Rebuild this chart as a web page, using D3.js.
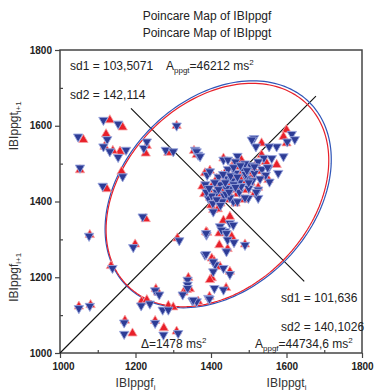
<!DOCTYPE html>
<html>
<head>
<meta charset="utf-8">
<script src="https://cdn.jsdelivr.net/npm/d3@7"></script>
<style>
  body { margin: 0; background: #fff; }
  svg { display: block; font-family: "Liberation Sans", Arial, sans-serif; }
</style>
</head>
<body>
<div id="chart"></div>
<script>
// IBI(i), IBI(i+1) pairs
var ppgfPoints = [
  [1062,1563],[1053,1483],[1132,1615],[1166,1596],[1122,1578],[1118,1545],[1159,1532],[1140,1534],
  [1163,1479],[1124,1433],[1227,1527],[1230,1547],[1309,1600],[1287,1529],[1355,1534],[1362,1523],
  [1227,1354],[1079,1312],[1199,1287],[1311,1303],[1135,1230],[1050,1123],[1081,1127],[1172,1086],
  [1192,1052],[1216,1136],[1230,1140],[1254,1169],[1260,1160],[1252,1085],[1275,1066],[1309,1057],
  [1287,1125],[1300,1121],[1340,1199],[1344,1169],[1327,1160],[1366,1136],[1336,1167],
  [1390,1318],[1402,1250],[1402,1198],[1396,1149],[1440,1172],[1424,1228],[1406,1378],[1387,1320],
  [1422,1316],[1455,1307],[1490,1287],[1444,1275],[1422,1285],[1408,1243],[1450,1215],[1397,1193],
  [1450,1360],[1433,1350],
  [1600,1589],[1592,1571],[1600,1554],[1534,1554],[1574,1497],[1552,1457],[1525,1437],[1534,1523],
  [1384,1475],[1393,1431],[1397,1482],[1433,1514],
  [1410,1420],[1420,1440],[1430,1410],[1440,1455],[1450,1430],[1460,1470],[1470,1445],[1480,1480],
  [1490,1455],[1500,1490],[1510,1470],[1520,1500],[1440,1480],[1460,1500],[1415,1460],[1425,1395],
  [1445,1405],[1470,1420],[1495,1430],[1505,1450],[1530,1480],[1545,1505],[1480,1510],[1455,1488],
  [1435,1430],[1405,1445],[1398,1410],[1418,1380],[1465,1395],[1485,1405],[1515,1420],[1540,1465],
  [1472,1492],[1428,1468],[1450,1450],[1488,1468],[1400,1390],[1412,1402],[1377,1440],[1382,1420],
  [1436,1444],[1458,1462],[1476,1462],[1498,1478],[1422,1420],[1446,1422],[1468,1432],[1512,1488]
];
var ppgtPoints = [
  [1048,1571],[1053,1489],[1115,1615],[1154,1605],[1125,1564],[1115,1545],[1132,1532],[1154,1517],
  [1175,1536],[1166,1466],[1113,1441],[1222,1541],[1230,1558],[1309,1600],[1280,1536],[1300,1532],
  [1366,1523],[1358,1536],[1219,1360],[1077,1309],[1194,1279],[1316,1297],[1139,1224],[1050,1118],
  [1079,1124],[1170,1080],[1170,1050],[1215,1125],[1238,1130],[1252,1165],[1263,1154],[1252,1079],
  [1274,1048],[1313,1052],[1272,1114],[1287,1114],[1338,1193],[1338,1180],[1338,1171],[1325,1154],
  [1351,1138],[1362,1136],
  [1388,1312],[1437,1321],[1411,1233],[1384,1259],[1409,1171],[1393,1145],[1433,1167],[1406,1373],
  [1428,1396],[1459,1400],[1387,1316],[1424,1334],[1428,1325],[1450,1343],[1441,1316],[1444,1299],
  [1490,1285],[1461,1292],[1441,1268],[1387,1261],[1406,1241],[1433,1224],[1450,1208],[1406,1215],
  [1353,1140],[1396,1143],[1459,1338],
  [1614,1578],[1622,1564],[1602,1558],[1514,1567],[1519,1545],[1574,1545],[1554,1545],[1540,1515],
  [1592,1519],[1578,1475],[1552,1488],[1561,1514],[1555,1452],[1525,1431],[1525,1409],[1499,1409],
  [1390,1470],[1393,1409],[1362,1532],[1371,1519],[1397,1479],[1433,1510],[1445,1510],[1470,1520],
  [1508,1563],
  [1415,1425],[1425,1445],[1435,1415],[1445,1460],[1455,1435],[1465,1475],[1475,1450],[1485,1485],
  [1495,1460],[1505,1495],[1515,1475],[1525,1505],[1445,1485],[1465,1505],[1420,1465],[1430,1400],
  [1450,1410],[1475,1425],[1500,1435],[1510,1455],[1535,1485],[1490,1500],[1460,1490],[1440,1435],
  [1410,1450],[1402,1415],[1470,1400],[1490,1410],[1520,1425],[1545,1470],[1478,1495],[1432,1472],
  [1455,1455],[1492,1472],[1405,1395],[1415,1405],[1385,1445],[1388,1425],[1480,1440],[1500,1450],
  [1460,1445],[1440,1420],[1425,1390],[1395,1435],[1530,1460],[1550,1490],
  [1438,1450],[1452,1468],[1470,1465],[1495,1482],[1420,1432],[1448,1425],[1465,1438],[1515,1492]
];

// ellipse parameters (ppgf, ppgt)
var seriesNames = ['ppgf', 'ppgt'];
var sd1Values = [101.636, 103.5071];
var sd2Values = [140.1026, 142.114];
var centerValues = [1417, 1419];
var majorTicks = [1000, 1200, 1400, 1600, 1800];
var minorTicks = [1100, 1300, 1500, 1700];

var width = 374, height = 391;
var colors = { ppgf: '#e8202a', ppgt: '#2d3c96' };

var svg = d3.select('#chart').append('svg')
    .attr('width', width)
    .attr('height', height);

var x = d3.scaleLinear().domain([1000, 1800]).range([60, 362]);
var y = d3.scaleLinear().domain([1000, 1800]).range([353, 50]);

// titre
svg.append('text').attr('x', 207).attr('y', 20).attr('text-anchor', 'middle')
    .attr('font-size', 12).attr('fill', '#222').text('Poincare Map of IBIppgf');
svg.append('text').attr('x', 207).attr('y', 37).attr('text-anchor', 'middle')
    .attr('font-size', 12).attr('fill', '#222').text('Poincare Map of IBIppgt');

// cadre
svg.append('rect')
    .attr('x', x(1000)).attr('y', y(1800))
    .attr('width', x(1800) - x(1000)).attr('height', y(1000) - y(1800))
    .attr('fill', 'none').attr('stroke', '#444').attr('stroke-width', 1.5);

// axes
var xAxis = svg.append('g')
    .attr('transform', 'translate(0,' + y(1000) + ')')
    .call(d3.axisBottom(x).tickValues(majorTicks).tickSize(5).tickFormat(d3.format('d')));
var xMinor = svg.append('g')
    .attr('transform', 'translate(0,' + y(1000) + ')')
    .call(d3.axisTop(x).tickValues(minorTicks).tickSize(3).tickFormat(''));
var yAxis = svg.append('g')
    .attr('transform', 'translate(' + x(1000) + ',0)')
    .call(d3.axisLeft(y).tickValues(majorTicks).tickSize(5).tickFormat(d3.format('d')));
var yMinor = svg.append('g')
    .attr('transform', 'translate(' + x(1000) + ',0)')
    .call(d3.axisRight(y).tickValues(minorTicks).tickSize(3).tickFormat(''));

[xAxis, xMinor, yAxis, yMinor].forEach(function(g) {
    g.select('.domain').remove();
    g.selectAll('line').attr('stroke', '#444').attr('stroke-width', 1.2);
    g.selectAll('text').attr('font-size', 10).attr('font-weight', 'bold')
        .attr('fill', '#222').attr('font-family', '"Liberation Sans", Arial, sans-serif');
});
xAxis.selectAll('text').attr('dy', '0.85em');
xAxis.selectAll('.tick').filter(function(d) { return d === 1000; })
    .select('text').attr('dx', 3);
yAxis.selectAll('text').attr('x', -8);

// axis titles
function subLabel(g, main, sub) {
    g.append('tspan').text(main);
    g.append('tspan').attr('font-size', 8).attr('dy', 3).text(sub);
}
var t1 = svg.append('text').attr('x', x(1200)).attr('y', 387).attr('text-anchor', 'middle')
    .attr('font-size', 12).attr('fill', '#333');
subLabel(t1, 'IBIppgf', 'i');
var t2 = svg.append('text').attr('x', x(1600)).attr('y', 387).attr('text-anchor', 'middle')
    .attr('font-size', 12).attr('fill', '#333');
subLabel(t2, 'IBIppgt', 'i');
var t3 = svg.append('text').attr('transform', 'translate(18,' + y(1600) + ') rotate(-90)')
    .attr('text-anchor', 'middle').attr('font-size', 12).attr('fill', '#333');
subLabel(t3, 'IBIppgt', 'i+1');
var t4 = svg.append('text').attr('transform', 'translate(18,' + y(1200) + ') rotate(-90)')
    .attr('text-anchor', 'middle').attr('font-size', 12).attr('fill', '#333');
subLabel(t4, 'IBIppgf', 'i+1');

var plot = svg.append('g');

// identity line and perpendicular
plot.append('line')
    .attr('x1', x(1000)).attr('y1', y(1000)).attr('x2', x(1678)).attr('y2', y(1678))
    .attr('stroke', '#111').attr('stroke-width', 1.1);
plot.append('line')
    .attr('x1', x(1418 - 230)).attr('y1', y(1418 + 228)).attr('x2', x(1418 + 229)).attr('y2', y(1418 - 229))
    .attr('stroke', '#111').attr('stroke-width', 1.1);

// ellipses
var k = 2.41;
var line = d3.line().curve(d3.curveLinearClosed);
seriesNames.slice().reverse().forEach(function(name) {
    var i = seriesNames.indexOf(name);
    var a = k * sd2Values[i], b = k * sd1Values[i], c = centerValues[i];
    var pts = d3.range(0, 360, 2).map(function(deg) {
        var t = deg * Math.PI / 180;
        var u = a * Math.cos(t), v = b * Math.sin(t);
        return [x(c + (u - v) / Math.SQRT2), y(c + (u + v) / Math.SQRT2)];
    });
    plot.append('path').attr('d', line(pts))
        .attr('fill', 'none').attr('stroke', name === 'ppgt' ? '#2f55b8' : colors.ppgf)
        .attr('stroke-width', 1.2);
});

// markers
var tri = d3.symbol().type(d3.symbolTriangle).size(38);
plot.selectAll('.ppgf').data(ppgfPoints).enter().append('path')
    .attr('class', 'ppgf')
    .attr('d', tri)
    .attr('transform', function(d) { return 'translate(' + x(d[0]) + ',' + y(d[1]) + ')'; })
    .attr('fill', colors.ppgf).attr('stroke', '#f7a3a6').attr('stroke-width', 0.8);
plot.selectAll('.ppgt').data(ppgtPoints).enter().append('path')
    .attr('class', 'ppgt')
    .attr('d', tri)
    .attr('transform', function(d) { return 'translate(' + x(d[0]) + ',' + y(d[1]) + ') rotate(180)'; })
    .attr('fill', colors.ppgt).attr('stroke', '#9aa6de').attr('stroke-width', 0.9);

// annotations
function note(px, py, parts) {
    var t = svg.append('text').attr('x', px).attr('y', py).attr('font-size', 12).attr('fill', '#222');
    parts.forEach(function(p) {
        var s = t.append('tspan').text(p[0]);
        if (p[1] === 'sub') s.attr('font-size', 8).attr('dy', 3);
        if (p[1] === 'up') s.attr('dy', -3);
        if (p[1] === 'sup') s.attr('font-size', 8).attr('dy', -5);
    });
}
note(70, 70, [['sd1 = 103,5071']]);
note(70, 99, [['sd2 = 142,114']]);
note(166, 70, [['A'], ['ppgt', 'sub'], ['=46212 ms', 'up'], ['2', 'sup']]);
note(281, 302, [['sd1 = 101,636']]);
note(281, 331, [['sd2 = 140,1026']]);
note(255, 348, [['A'], ['ppgf', 'sub'], ['=44734,6 ms', 'up'], ['2', 'sup']]);
note(141, 348, [['\u0394=1478 ms'], ['2', 'sup']]);
</script>
</body>
</html>
